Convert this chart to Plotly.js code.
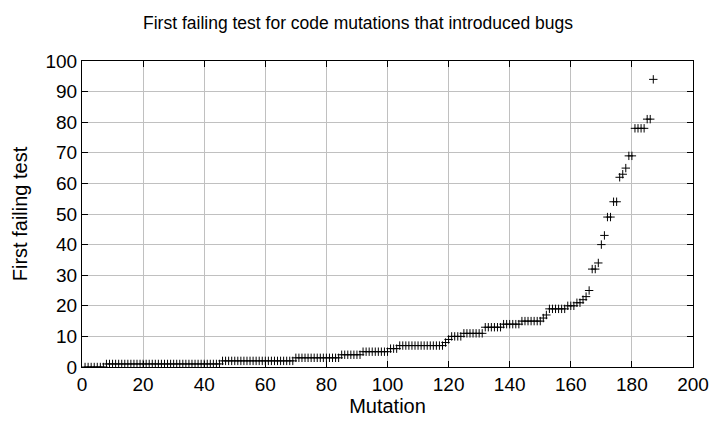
<!DOCTYPE html>
<html>
<head>
<meta charset="utf-8">
<script src="https://cdn.plot.ly/plotly-3.0.1.min.js"></script>
<style>html,body{margin:0;padding:0;background:#fff;}#chart{width:716px;height:437px;}</style>
</head>
<body>
<div id="chart"></div>
<script>
// Sorted "first failing test" index per mutation (levels with run lengths)
const levelValues = [0, 1, 2, 3, 4, 5, 6, 7, 8, 9, 10, 11, 13, 14, 15, 16, 17, 19, 20, 21, 22, 23, 25, 32, 34, 40, 43, 49, 54, 62, 63, 65, 69, 78, 81, 94];
const levelCounts = [7, 38, 24, 15, 7, 9, 3, 15, 1, 1, 4, 7, 6, 6, 7, 1, 1, 6, 3, 2, 1, 1, 1, 2, 1, 1, 1, 2, 2, 1, 1, 1, 2, 4, 2, 1];
const xTicks = [0, 20, 40, 60, 80, 100, 120, 140, 160, 180, 200];
const yTicks = [0, 10, 20, 30, 40, 50, 60, 70, 80, 90, 100];

const yVals = [];
levelValues.forEach((v, i) => { for (let k = 0; k < levelCounts[i]; k++) yVals.push(v); });
const xVals = yVals.map((_, i) => i + 1);

const font = 'Liberation Sans, Arial, sans-serif';
const trace = {
  x: xVals, y: yVals, type: 'scatter', mode: 'markers',
  marker: {symbol: 'cross-thin-open', size: 6, color: '#000', line: {color: '#000', width: 1}},
  hoverinfo: 'skip'
};
const axisCommon = {
  showline: true, linecolor: '#000', linewidth: 1, mirror: 'ticks',
  ticks: 'inside', ticklen: 6, tickcolor: '#000', tickwidth: 1,
  showgrid: true, gridcolor: '#c0c0c0', gridwidth: 1, zeroline: false,
  tickfont: {family: font, size: 19, color: '#000'}
};
const layout = {
  width: 716, height: 437,
  margin: {l: 82, r: 23, t: 61, b: 70},
  paper_bgcolor: '#fff', plot_bgcolor: '#fff',
  showlegend: false,
  title: {text: 'First failing test for code mutations that introduced bugs', x: 0.5, xanchor: 'center', y: 0.948, yanchor: 'middle',
          font: {family: font, size: 17.5, color: '#000'}},
  xaxis: Object.assign({}, axisCommon, {range: [0, 200], tickvals: xTicks,
          title: {text: 'Mutation', font: {family: font, size: 20, color: '#000'}, standoff: 5}}),
  yaxis: Object.assign({}, axisCommon, {range: [0, 100], tickvals: yTicks,
          title: {text: 'First failing test', font: {family: font, size: 20, color: '#000'}, standoff: 12}})
};
Plotly.newPlot('chart', [trace], layout, {displayModeBar: false, staticPlot: true});
</script>
</body>
</html>
